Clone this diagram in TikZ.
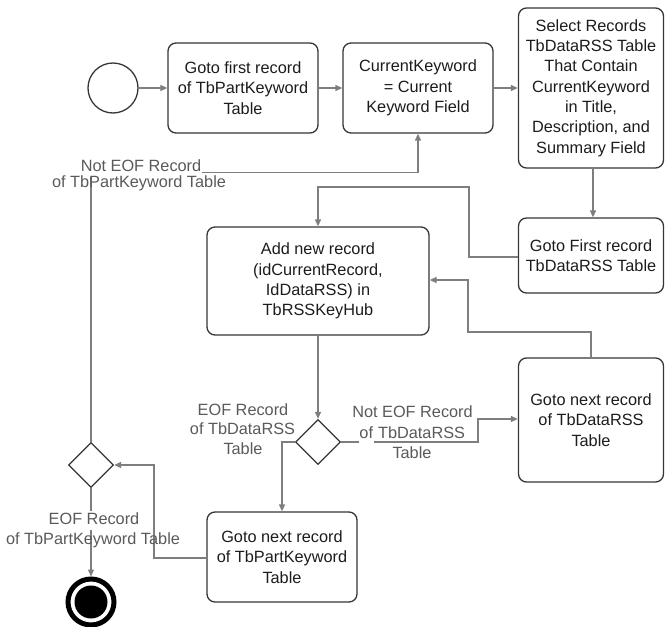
\documentclass[tikz,border=0pt]{standalone}
\usepackage{fontspec}
\setmainfont{Liberation Sans}
\usetikzlibrary{arrows.meta,shapes.geometric}
\definecolor{boxline}{HTML}{363636}
\definecolor{boxtext}{HTML}{1C1C1C}
\definecolor{flowline}{HTML}{7E7E7E}
\definecolor{labeltext}{HTML}{5A5A5A}
\begin{document}
\begin{tikzpicture}[x=1pt,y=-1pt,
  every node/.style={font=\fontsize{16.3}{20.3}\selectfont},
  action/.style={draw=boxline,line width=1.3pt,rounded corners=8pt,text=boxtext,
    align=center,inner sep=0pt},
  decision/.style={draw=boxline,line width=1.3pt,diamond,aspect=1,inner sep=0pt,
    minimum width=45pt,minimum height=45pt},
  flow/.style={draw=flowline,line width=1.4pt,-{Triangle[length=7pt,width=6pt]}},
  guard/.style={text=labeltext,align=center,inner sep=0pt,anchor=base},
  guardmask/.style={guard,fill=white,inner sep=1pt,text depth=5pt}
]
\useasboundingbox (0,0) rectangle (665,627);

% start and final states
\node[circle,draw=boxline,line width=1.3pt,minimum size=50pt,inner sep=0pt] (start) at (113,88) {};
\node[circle,draw=black,line width=5pt,minimum size=46pt,inner sep=0pt] (stop) at (91,602) {};
\fill[black] (stop.center) circle[radius=16.5pt];

% actions
\node[action,minimum width=150pt,minimum height=90pt] (firstkw) at (243,88)
  {Goto first record\\of TbPartKeyword\\Table};
\node[action,minimum width=150pt,minimum height=90pt] (curkw) at (418,88)
  {CurrentKeyword\\= Current\\Keyword Field};
\node[action,minimum width=145pt,minimum height=160pt] (select) at (591,88)
  {Select Records\\TbDataRSS Table\\That Contain\\CurrentKeyword\\in Title,\\Description, and\\Summary Field};
\node[action,minimum width=145pt,minimum height=75pt] (firstrss) at (591,255.5)
  {Goto First record\\TbDataRSS Table};
\node[action,minimum width=222pt,minimum height=108pt] (addrec) at (318,281)
  {Add new record\\(idCurrentRecord,\\IdDataRSS) in\\TbRSSKeyHub};
\node[action,minimum width=145pt,minimum height=124pt] (nextrss) at (591,420)
  {Goto next record\\of TbDataRSS\\Table};
\node[action,minimum width=150pt,minimum height=90pt] (nextkw) at (282,557)
  {Goto next record\\of TbPartKeyword\\Table};

% decisions
\node[decision] (rssend) at (318,442) {};
\node[decision] (kwend) at (91,465) {};

% control flow
\draw[flow] (start) -- (firstkw);
\draw[flow] (firstkw) -- (curkw);
\draw[flow] (curkw) -- (select);
\draw[flow] (select.south -| 593,0) -- (firstrss.north -| 593,0);
\draw[flow] (firstrss.west |- 0,257) -- (469,257) -- (469,187) -- (318,187) -- (addrec.north);
\draw[flow] (addrec.south) -- (rssend.north);
\draw[flow] (rssend.east) -- (478,442) -- (478,419) -- (nextrss.west |- 0,419);
\draw[flow] (nextrss.north) -- (591,332) -- (468,332) -- (468,280) -- (addrec.east |- 0,280);
\draw[flow] (rssend.west) -- (282,442) -- (nextkw.north);
\draw[flow] (nextkw.west |- 0,558) -- (154,558) -- (154,465) -- (kwend.east);
\draw[flow] (kwend.north) -- (91,172.5) -- (418,172.5) -- (curkw.south);
\draw[flow] (kwend.south) -- (stop.north);

% guards
\node[guardmask] (g1a) at (141,171) {Not EOF Record};
\node[guard] (g1b) at (139,187) {of TbPartKeyword Table};
\node[guardmask] (g2a) at (94,524) {EOF Record};
\node[guard] (g2b) at (93,544) {of TbPartKeyword Table};
\node[guard] (g3a) at (243,415) {EOF Record};
\node[guard] (g3b) at (242.5,434) {of TbDataRSS};
\node[guard] (g3c) at (243,454) {Table};
\node[guard] (g4a) at (412.5,417) {Not EOF Record};
\node[guard] (g4b) at (412,438) {{\setlength\fboxsep{0.5pt}\colorbox{white}{\strut of}} TbDataRSS};
\node[guard] (g4c) at (412,458) {Table};
\end{tikzpicture}
\end{document}
